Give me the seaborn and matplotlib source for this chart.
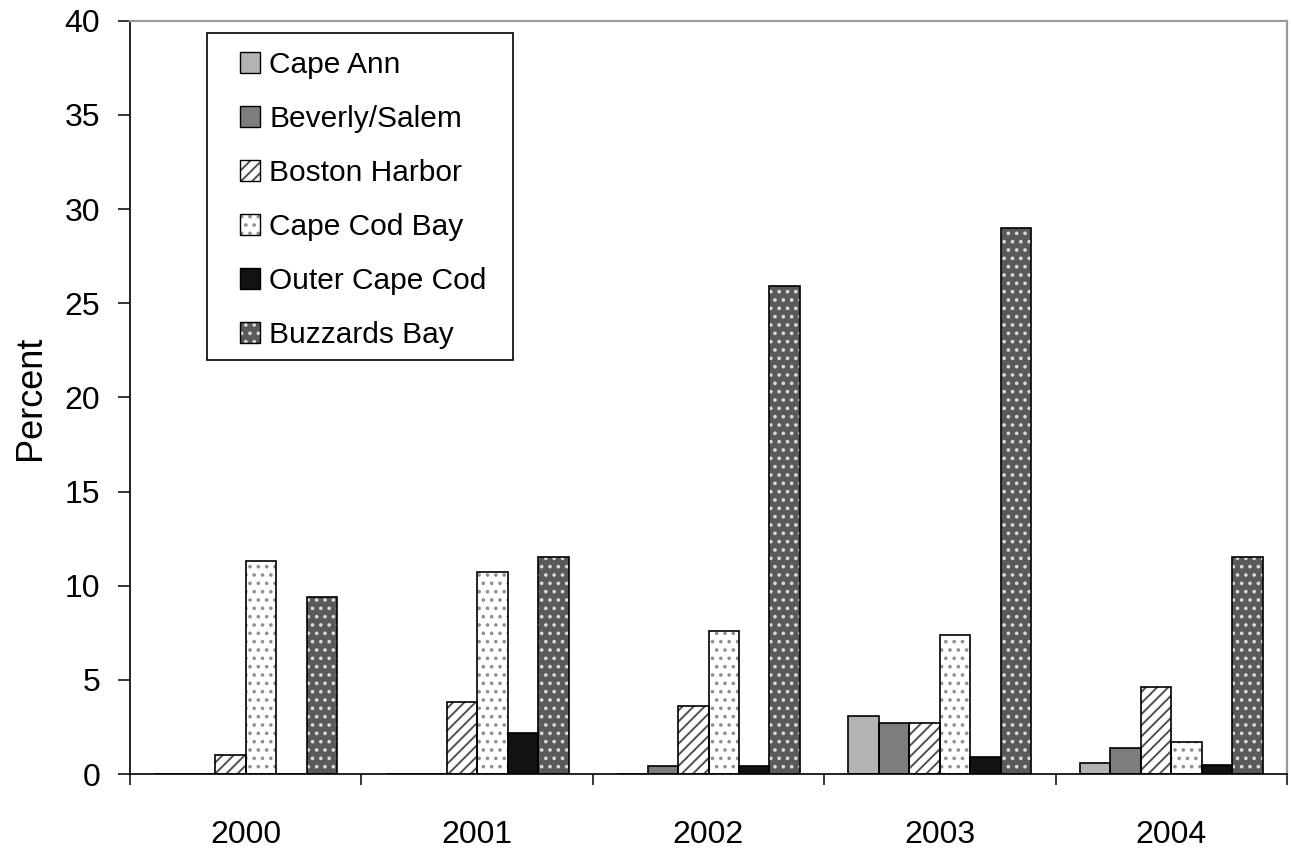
import numpy as np
import pandas as pd
import matplotlib
matplotlib.use("Agg")
import matplotlib.pyplot as plt
from matplotlib.patches import Patch, Rectangle
import seaborn as sns

# Share of samples (percent) by region and year
years = ["2000", "2001", "2002", "2003", "2004"]
regions = ["Cape Ann", "Beverly/Salem", "Boston Harbor", "Cape Cod Bay",
           "Outer Cape Cod", "Buzzards Bay"]
cape_ann = [0.0, 0.0, 0.0, 3.1, 0.6]
beverly_salem = [0.0, 0.0, 0.4, 2.7, 1.4]
boston_harbor = [1.0, 3.8, 3.6, 2.7, 4.6]
cape_cod_bay = [11.3, 10.7, 7.6, 7.4, 1.7]
outer_cape_cod = [0.0, 2.2, 0.4, 0.9, 0.5]
buzzards_bay = [9.4, 11.5, 25.9, 29.0, 11.5]
y_ticks = [0, 5, 10, 15, 20, 25, 30, 35, 40]

series = [cape_ann, beverly_salem, boston_harbor, cape_cod_bay,
          outer_cape_cod, buzzards_bay]
df = pd.DataFrame(
    [(yr, reg, v) for reg, vals in zip(regions, series) for yr, v in zip(years, vals)],
    columns=["Year", "Region", "Percent"],
)

# Grayscale print styling per region
face = {"Cape Ann": "#b3b3b3", "Beverly/Salem": "#7d7d7d", "Boston Harbor": "#ffffff",
        "Cape Cod Bay": "#ffffff", "Outer Cape Cod": "#121212", "Buzzards Bay": "#5a5a5a"}
hatch = {"Cape Ann": None, "Beverly/Salem": None, "Boston Harbor": "///",
         "Cape Cod Bay": "..", "Outer Cape Cod": None, "Buzzards Bay": ".."}
hatch_col = {"Cape Ann": "black", "Beverly/Salem": "black", "Boston Harbor": "#505050",
             "Cape Cod Bay": "#909090", "Outer Cape Cod": "black", "Buzzards Bay": "#dcdcdc"}

sns.set_style("white")
plt.rcParams["font.family"] = ["Liberation Sans", "DejaVu Sans"]
plt.rcParams["hatch.linewidth"] = 1.4
for key in ["text.color", "axes.labelcolor", "xtick.color", "ytick.color"]:
    plt.rcParams[key] = "black"

fig = plt.figure(figsize=(12.91, 8.49), dpi=100)
ax = fig.add_axes([130 / 1291, 1 - 774 / 849, (1287 - 130) / 1291, (774 - 20.7) / 849])

sns.barplot(data=df, x="Year", y="Percent", hue="Region", order=years,
            hue_order=regions, palette=face, width=0.79, saturation=1,
            errorbar=None, legend=False, ax=ax)

# Hatch fill in its own colour, black outline drawn on top
for container, reg in zip(ax.containers, regions):
    for bar in container:
        bar.set_linewidth(0)
        if hatch[reg]:
            bar.set_hatch(hatch[reg])
            bar.set_edgecolor(hatch_col[reg])
        ax.add_patch(Rectangle(bar.get_xy(), bar.get_width(), bar.get_height(),
                               fill=False, edgecolor="black", linewidth=1.2,
                               zorder=bar.get_zorder() + 0.1))

ax.set_xlim(-0.5, len(years) - 0.5)
ax.set_ylim(0, 40)
ax.set_yticks(y_ticks)
ax.set_yticklabels([str(t) for t in y_ticks], fontsize=23)
ax.set_xticks(range(len(years)))
ax.set_xticklabels(years, fontsize=23)
ax.set_xticks(np.arange(-0.5, len(years), 1.0), minor=True)
ax.tick_params(axis="x", which="major", length=0, pad=33, bottom=True)
ax.tick_params(axis="x", which="minor", length=8, width=1.1, bottom=True,
               direction="out", color="black")
ax.tick_params(axis="y", which="major", length=8.5, width=1.1, left=True,
               direction="out", pad=13, color="black")
ax.set_xlabel("")
ax.set_ylabel("Percent", fontsize=26, labelpad=12)

for side in ["left", "bottom"]:
    ax.spines[side].set_color("black")
    ax.spines[side].set_linewidth(1.2)
for side in ["top", "right"]:
    ax.spines[side].set_color("#9a9a9a")
    ax.spines[side].set_linewidth(1.6)

# Legend box frame, drawn separately so the entries can sit freely inside it
ax.add_patch(Rectangle((207 / 1291, 1 - 360 / 849), (513 - 207) / 1291, (360 - 33) / 849,
                       transform=fig.transFigure, facecolor="white", edgecolor="black",
                       linewidth=1.2, zorder=4.5, clip_on=False))

handles = [(Patch(facecolor=face[r], edgecolor=hatch_col[r], hatch=hatch[r], linewidth=0),
            Patch(fill=False, edgecolor="black", linewidth=1.0))
           for r in regions]
leg = ax.legend(handles, regions, loc="upper left",
                bbox_to_anchor=(240 / 1291, 1 - 51 / 849),
                bbox_transform=fig.transFigure, borderaxespad=0, borderpad=0,
                fontsize=21.5, handlelength=0.68, handleheight=0.68,
                handletextpad=0.3, labelspacing=0.87, frameon=False)

fig.savefig("out.png", dpi=100)
